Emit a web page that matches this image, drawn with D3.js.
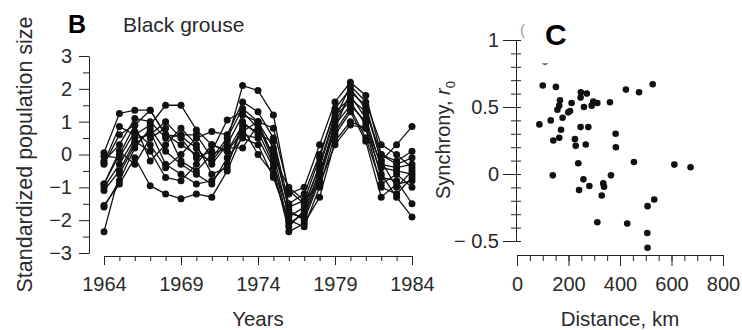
<!DOCTYPE html>
<html>
<head>
<meta charset="utf-8">
<script src="https://cdn.jsdelivr.net/npm/d3@7"></script>
<style>
  body { margin: 0; background: #fff; }
  svg { display: block; }
  text { font-family: "Liberation Sans", Arial, sans-serif; fill: #2a2a2a; }
  .domain, .tick line { stroke: #222; }
</style>
</head>
<body>
<figure id="chart" style="margin:0"></figure>
<script>
// panel B: standardized black grouse counts, one array per site
const years = [1964, 1965, 1966, 1967, 1968, 1969, 1970, 1971, 1972, 1973, 1974,
               1975, 1976, 1977, 1978, 1979, 1980, 1981, 1982, 1983, 1984];
const site1  = [0.05, 1.25, 1.35, 1.35, 0.6, 0.55, 0.2, -0.3, 0.3, 1.2, 1.0, 0.2, -1.6, -1.4, -0.1, 1.4, 2.0, 1.4, -0.2, 0.3, 0.85];
const site2  = [-0.25, 0.85, 0.6, 0.9, 1.5, 1.5, 0.75, 0.3, 0.1, 0.9, 0.7, -0.3, -1.8, -1.9, -0.7, 1.0, 1.8, 1.1, -0.4, -0.5, -0.6];
const site3  = [-0.9, 0.0, 0.9, 1.35, 0.6, 0.3, 0.0, -0.2, 0.4, 2.1, 1.95, 1.2, -1.2, -1.0, 0.3, 1.6, 2.2, 1.8, 0.0, -0.3, -0.1];
const site4  = [-1.55, -0.9, -0.1, -0.95, -1.2, -1.35, -1.2, -1.3, -0.5, 0.6, 0.5, -0.4, -2.35, -2.1, -1.3, 0.4, 1.0, 0.8, -0.6, -1.3, -1.9];
const site5  = [-2.35, -0.6, 0.3, 0.7, -0.3, -0.6, -0.9, -0.8, -0.3, 0.8, 0.0, -0.6, -2.1, -1.8, -0.6, 0.9, 1.5, 1.0, -0.7, -0.8, -1.5];
const site6  = [-1.0, -0.3, 0.5, 0.6, 1.0, 0.5, -0.1, 0.1, 1.05, 1.3, 0.8, 0.0, -1.9, -1.6, -0.3, 1.2, 1.6, 0.9, -0.3, -0.4, -0.3];
const site7  = [-1.6, -0.8, 0.2, 0.8, 0.1, -0.3, -0.6, -0.9, -0.1, 0.5, 0.3, -0.7, -2.0, -2.2, -1.0, 0.6, 1.3, 0.4, -1.3, -0.9, -0.8];
const site8  = [-0.05, -0.1, 0.7, 0.3, -0.4, 0.0, 0.5, 0.7, 0.6, 1.6, 1.3, 0.5, -1.5, -1.2, 0.0, 1.3, 1.7, 1.3, 0.0, -0.2, 0.1];
const site9  = [-0.9, 0.1, -0.3, 0.5, 0.8, -0.2, -0.5, 0.0, 0.2, 0.2, 0.9, -0.2, -2.2, -1.7, -0.5, 0.7, 1.4, 0.5, -0.9, -0.6, -1.0];
const site10 = [-0.3, 0.6, 0.9, -0.2, 0.3, 0.8, 0.3, -0.6, -0.4, 1.0, 0.6, 0.4, -1.7, -2.0, -0.8, 0.8, 1.9, 1.5, -0.2, -1.0, -0.5];
const site11 = [-1.1, -0.5, 0.4, 0.1, -0.7, -0.8, -0.3, 0.3, 0.1, 0.7, 1.0, -0.1, -1.0, -1.4, -0.9, 0.3, 0.9, 0.8, -1.0, -1.2, -0.7];
const site12 = [-0.2, 0.3, 1.1, 1.0, 0.5, 0.6, 0.6, -0.1, 0.5, 1.4, 1.0, 0.8, -1.1, -1.5, -0.4, 1.1, 2.1, 1.6, 0.3, 0.0, -0.4];
const sites = [site1, site2, site3, site4, site5, site6, site7, site8, site9, site10, site11, site12];

const yearTicks = [1964, 1969, 1974, 1979, 1984];
const stdTicks = [-3, -2, -1, 0, 1, 2, 3];

// panel C: pairwise synchrony against distance
const distance = [100, 151, 527, 423, 474, 248, 271, 247, 167, 212, 296, 312, 361, 260, 290, 164, 157,
                  206, 199, 131, 177, 87, 171, 247, 277, 383, 164, 141, 225, 228, 267, 384, 238, 454,
                  611, 674, 139, 258, 365, 281, 335, 338, 241, 329, 533, 507, 312, 428, 506, 507, 109];
const synchrony = [0.66, 0.65, 0.67, 0.63, 0.61, 0.61, 0.60, 0.57, 0.55, 0.53, 0.54, 0.53, 0.535, 0.50, 0.51, 0.51, 0.48,
                   0.47, 0.46, 0.40, 0.42, 0.37, 0.33, 0.35, 0.35, 0.30, 0.27, 0.25, 0.26, 0.21, 0.22, 0.20, 0.08, 0.09,
                   0.07, 0.05, -0.01, -0.04, -0.01, -0.09, -0.07, -0.095, -0.12, -0.16, -0.19, -0.24, -0.36, -0.37, -0.44, -0.55, 0.84];

const distTicks = [0, 200, 400, 600, 800];
const syncTicks = [-0.5, 0, 0.5, 1];

const svg = d3.select("#chart").append("svg")
  .attr("width", 742)
  .attr("height", 330);

// ---------- panel B ----------
const x = d3.scaleLinear().domain([1964, 1984]).range([104, 412]);
const y = d3.scaleLinear().domain([-3, 3]).range([253, 56]);

// minor + major ticks on x
svg.append("g")
  .attr("transform", "translate(0,256)")
  .call(d3.axisBottom(x).tickValues(years).tickSize(5).tickSizeOuter(0).tickFormat(""));
svg.append("g")
  .attr("transform", "translate(0,256)")
  .call(d3.axisBottom(x).tickValues(yearTicks).tickSize(9).tickSizeOuter(0).tickPadding(12).tickFormat(d3.format("d")))
  .call(g => g.select(".domain").remove());

svg.append("g")
  .attr("transform", "translate(89,0)")
  .call(d3.axisLeft(y).tickValues([-2.5, -1.5, -0.5, 0.5, 1.5, 2.5]).tickSize(6).tickSizeOuter(0).tickFormat(""));
svg.append("g")
  .attr("transform", "translate(89,0)")
  .call(d3.axisLeft(y).tickValues(stdTicks).tickSize(10).tickSizeOuter(0).tickPadding(7).tickFormat(d3.format("d")))
  .call(g => g.select(".domain").remove());

svg.selectAll(".tick text").attr("font-size", 20).attr("font-family", null);

const line = d3.line()
  .x((d, i) => x(years[i]))
  .y(d => y(d));

const lines = svg.append("g");
lines.selectAll("path")
  .data(sites)
  .enter()
  .append("path")
  .attr("d", line)
  .attr("fill", "none")
  .attr("stroke", "#111")
  .attr("stroke-width", 1.3);

sites.forEach(s => {
  lines.append("g").selectAll("circle")
    .data(s)
    .enter()
    .append("circle")
    .attr("cx", (d, i) => x(years[i]))
    .attr("cy", d => y(d))
    .attr("r", 3.5)
    .attr("fill", "#111");
});

svg.append("text")
  .attr("transform", "translate(32,154.5) rotate(-90)")
  .attr("text-anchor", "middle")
  .attr("font-size", 21.5)
  .text("Standardized population size");

svg.append("text")
  .attr("x", 258).attr("y", 326)
  .attr("text-anchor", "middle")
  .attr("font-size", 20.5)
  .text("Years");

svg.append("text")
  .attr("x", 123).attr("y", 32)
  .attr("font-size", 21)
  .text("Black grouse");

svg.append("text")
  .attr("x", 68).attr("y", 33)
  .attr("font-size", 25)
  .attr("font-weight", "bold")
  .style("fill", "#000")
  .text("B");

// ---------- panel C ----------
const xd = d3.scaleLinear().domain([0, 800]).range([517, 723]);
const ys = d3.scaleLinear().domain([-0.5, 1]).range([241, 40]);

svg.append("g")
  .attr("transform", "translate(0,255)")
  .call(d3.axisBottom(xd).tickValues(d3.range(0, 801, 50)).tickSize(6).tickSizeOuter(0).tickFormat(""));
const xdAxis = svg.append("g")
  .attr("transform", "translate(0,255)")
  .call(d3.axisBottom(xd).tickValues(distTicks).tickSize(11).tickSizeOuter(0).tickPadding(11).tickFormat(d3.format("d")));
xdAxis.select(".domain").remove();
xdAxis.selectAll(".tick text").attr("font-size", 20).attr("font-family", null);

const ysMinor = svg.append("g")
  .attr("transform", "translate(516,0)")
  .call(d3.axisLeft(ys).tickValues(d3.range(-5, 11).map(v => v / 10)).tickSize(5).tickSizeOuter(0).tickFormat(""));
ysMinor.selectAll(".tick line").attr("x1", 5);
const ysAxis = svg.append("g")
  .attr("transform", "translate(516,0)")
  .call(d3.axisLeft(ys).tickValues(syncTicks).tickSize(13).tickSizeOuter(0).tickPadding(4)
    .tickFormat(d => d === -0.5 ? "\u2212 0.5" : d3.format("")(d)));
ysAxis.select(".domain").remove();
ysAxis.selectAll(".tick line").attr("x1", 5);
ysAxis.selectAll(".tick text").attr("font-size", 20).attr("font-family", null);

svg.append("g").selectAll("circle")
  .data(distance)
  .enter()
  .append("circle")
  .attr("cx", d => xd(d))
  .attr("cy", (d, i) => ys(synchrony[i]))
  .attr("r", 3.3)
  .attr("fill", "#111");

// pasted panel letter sits on a white patch over the plot
svg.append("rect")
  .attr("x", 530).attr("y", 8)
  .attr("width", 60).attr("height", 55.5)
  .attr("fill", "#fff");

svg.append("text")
  .attr("x", 520).attr("y", 35)
  .attr("font-size", 15)
  .style("fill", "#8a98b8")
  .text("(");

svg.append("text")
  .attr("x", 545).attr("y", 45)
  .attr("font-size", 30)
  .attr("font-weight", "bold")
  .style("fill", "#000")
  .text("C");

const yLab = svg.append("text")
  .attr("transform", "translate(450,140) rotate(-90)")
  .attr("text-anchor", "middle")
  .attr("font-size", 20);
yLab.append("tspan").text("Synchrony, ");
yLab.append("tspan").attr("font-style", "italic").text("r");
yLab.append("tspan").attr("font-size", 13).attr("dy", 5).text("0");

svg.append("text")
  .attr("x", 620).attr("y", 326)
  .attr("text-anchor", "middle")
  .attr("font-size", 20.5)
  .text("Distance, km");
</script>
</body>
</html>
